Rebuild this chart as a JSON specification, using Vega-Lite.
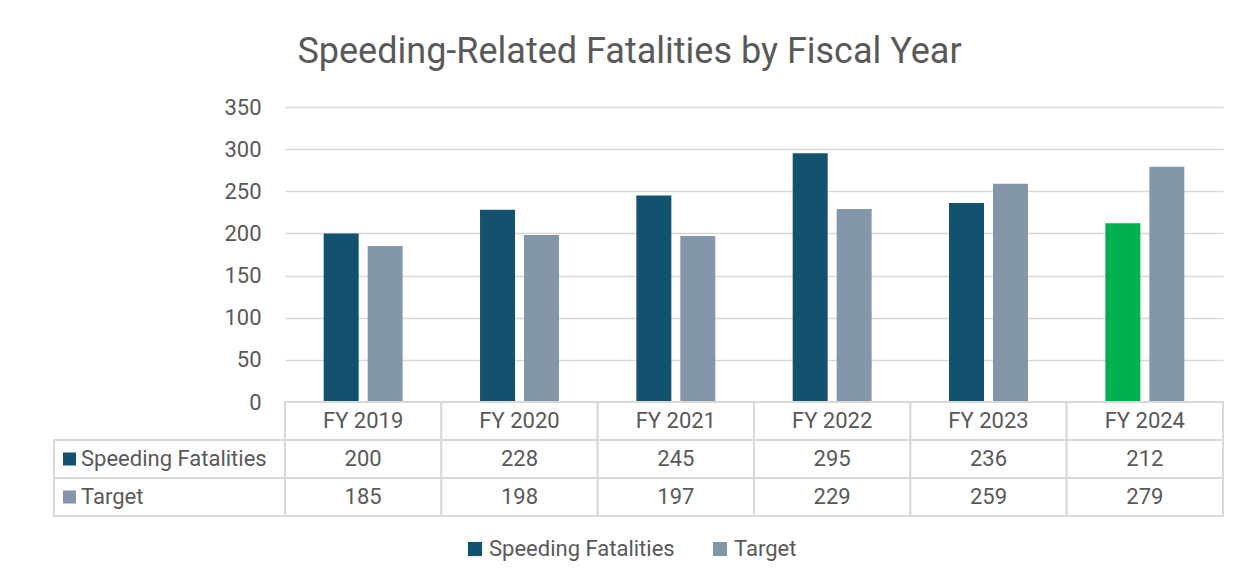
{
  "$schema": "https://vega.github.io/schema/vega-lite/v6.json",
  "background": "white",
  "padding": {"left": 53, "top": 34, "right": 22, "bottom": 10},
  "title": {"text": "Speeding-Related Fatalities by Fiscal Year", "fontSize": 36, "font": "Roboto", "fontWeight": "normal", "color": "#595959", "anchor": "middle", "offset": 25, "dx": -9},
  "datasets": {
    "fat": [
      {"year": "FY 2019", "series": "Speeding Fatalities", "value": 200},
      {"year": "FY 2019", "series": "Target", "value": 185},
      {"year": "FY 2020", "series": "Speeding Fatalities", "value": 228},
      {"year": "FY 2020", "series": "Target", "value": 198},
      {"year": "FY 2021", "series": "Speeding Fatalities", "value": 245},
      {"year": "FY 2021", "series": "Target", "value": 197},
      {"year": "FY 2022", "series": "Speeding Fatalities", "value": 295},
      {"year": "FY 2022", "series": "Target", "value": 229},
      {"year": "FY 2023", "series": "Speeding Fatalities", "value": 236},
      {"year": "FY 2023", "series": "Target", "value": 259},
      {"year": "FY 2024", "series": "Speeding Fatalities", "value": 212},
      {"year": "FY 2024", "series": "Target", "value": 279}
    ]
  },
  "data": {"name": "fat"},
  "config": {"view": {"stroke": null}, "font": "Roboto", "concat": {"spacing": 0}},
  "bounds": "flush",
  "spacing": 0,
  "columns": 2,
  "concat": [
    {
      "width": 231,
      "height": 295,
      "data": {"values": [{"a": 1}]},
      "mark": {"type": "text"},
      "encoding": {"text": {"value": ""}}
    },
    {
      "width": 938,
      "height": 295,
      "mark": {"type": "bar"},
      "encoding": {
        "x": {"field": "year", "type": "nominal", "scale": {"paddingInner": 0.495, "paddingOuter": 0.2475}, "axis": null},
        "xOffset": {"field": "series", "type": "nominal", "scale": {"paddingInner": 0.2045, "paddingOuter": 0}},
        "y": {
          "field": "value", "type": "quantitative",
          "scale": {"domain": [0, 350], "nice": false},
          "axis": {"values": [0, 50, 100, 150, 200, 250, 300, 350], "title": null, "domain": false, "ticks": false, "labelPadding": 24, "labelFontSize": 22, "labelColor": "#595959", "gridColor": "#d9d9d9", "gridWidth": 1.5}
        },
        "color": {
          "field": "series", "type": "nominal",
          "condition": {"test": "datum.year === 'FY 2024' && datum.series === 'Speeding Fatalities'", "value": "#00b050"},
          "scale": {"domain": ["Speeding Fatalities", "Target"], "range": ["#13526f", "#8497aa"]},
          "legend": {"title": null, "orient": "none", "legendX": 410, "legendY": 431, "padding": 0, "direction": "horizontal", "symbolType": "square", "symbolSize": 200, "symbolStrokeWidth": 0, "labelFontSize": 22, "labelColor": "#595959", "labelLimit": 400, "labelOffset": 3, "columnPadding": 34}
        }
      }
    },
    {
      "width": 231,
      "height": 114,
      "transform": [{"filter": "datum.year === 'FY 2019'"}],
      "layer": [
        {
          "mark": {"type": "rect", "fill": "white", "stroke": "#d9d9d9", "strokeWidth": 2},
          "encoding": {
            "y": {"field": "series", "type": "nominal", "scale": {"domain": ["header", "Speeding Fatalities", "Target"], "paddingInner": 0, "paddingOuter": 0}, "axis": null}
          }
        },
        {
          "mark": {"type": "point", "shape": "square", "filled": true, "size": 170, "opacity": 1, "xOffset": 15.5},
          "encoding": {
            "x": {"datum": 0, "type": "quantitative", "scale": {"domain": [0, 1]}, "axis": null},
            "y": {"field": "series", "type": "nominal", "axis": null},
            "color": {"field": "series", "type": "nominal"}
          }
        },
        {
          "mark": {"type": "text", "align": "left", "dx": 27, "fontSize": 22, "color": "#595959"},
          "encoding": {
            "x": {"datum": 0, "type": "quantitative", "axis": null},
            "y": {"field": "series", "type": "nominal", "axis": null},
            "text": {"field": "series"}
          }
        }
      ]
    },
    {
      "width": 938,
      "height": 114,
      "encoding": {
        "x": {"field": "year", "type": "nominal", "axis": null, "scale": {"paddingInner": 0, "paddingOuter": 0}}
      },
      "layer": [
        {
          "mark": {"type": "rect", "fill": "white", "stroke": "#d9d9d9", "strokeWidth": 2},
          "encoding": {
            "y": {"field": "series", "type": "nominal", "scale": {"domain": ["header", "Speeding Fatalities", "Target"], "paddingInner": 0, "paddingOuter": 0}, "axis": null}
          }
        },
        {
          "transform": [{"filter": "datum.series === 'Target'"}],
          "mark": {"type": "rect", "fill": "white", "stroke": "#d9d9d9", "strokeWidth": 2},
          "encoding": {
            "y": {"datum": "header", "type": "nominal"}
          }
        },
        {
          "mark": {"type": "text", "fontSize": 22, "color": "#595959"},
          "encoding": {
            "y": {"field": "series", "type": "nominal"},
            "text": {"field": "value"}
          }
        },
        {
          "transform": [{"filter": "datum.series === 'Target'"}],
          "mark": {"type": "text", "fontSize": 22, "color": "#595959"},
          "encoding": {
            "y": {"datum": "header", "type": "nominal"},
            "text": {"field": "year"}
          }
        }
      ]
    }
  ]
}
